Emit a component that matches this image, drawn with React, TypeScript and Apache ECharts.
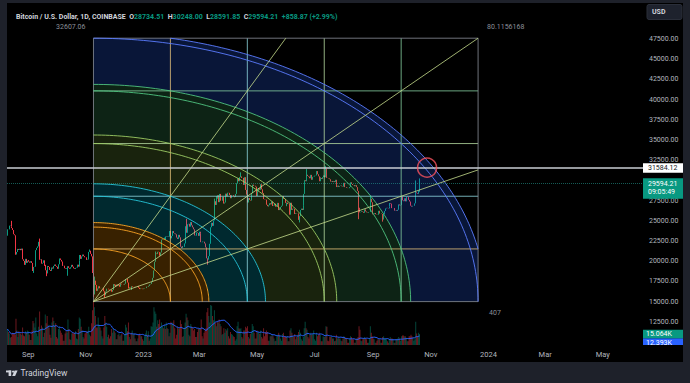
import React, { useEffect, useRef } from "react";
import * as echarts from "echarts";

const FONT = "Roboto, 'Noto Sans', sans-serif";

// ---------------- data ----------------
const startDate = "2022-08-10"; // first daily bar on the time axis
const dayCount = 673; // Aug 10 2022 .. Jun 12 2024
const prevOpen = 23160; // open of the first visible bar

// daily closes, thousands of USD
const closesAug22 = [23.95, 23.94, 24.40, 24.44, 24.31, 24.10, 23.86, 23.34, 23.21, 20.83, 21.14, 21.52, 21.40, 21.53, 21.37, 21.56, 20.24, 20.04, 19.55, 20.29, 19.80, 20.05];
const closesSep22 = [20.13, 19.95, 19.83, 20.00, 19.79, 18.79, 19.29, 19.32, 21.37, 21.65, 21.83, 22.40, 20.18, 20.24, 19.70, 19.80, 20.11, 19.42, 19.54, 18.88, 18.49, 19.41, 19.29, 18.92, 18.80, 19.22, 19.08, 19.41, 19.59, 19.42];
const closesOct22 = [19.31, 19.06, 19.62, 20.34, 20.16, 19.96, 19.53, 19.42, 19.44, 19.13, 19.06, 19.16, 19.38, 19.18, 19.07, 19.26, 19.55, 19.33, 19.12, 19.04, 19.17, 19.21, 19.57, 19.33, 20.09, 20.77, 20.29, 20.60, 20.82, 20.63, 20.49];
const closesNov22 = [20.48, 20.16, 20.21, 21.15, 21.30, 20.91, 20.60, 18.54, 15.88, 17.59, 17.07, 16.81, 16.33, 16.62, 16.90, 16.66, 16.69, 16.70, 16.70, 16.28, 15.78, 16.24, 16.60, 16.60, 16.52, 16.46, 16.44, 16.22, 16.44, 17.16];
const closesDec22 = [16.98, 17.09, 16.89, 17.11, 16.97, 17.09, 16.84, 17.22, 17.13, 17.13, 17.09, 17.21, 17.78, 17.81, 17.36, 16.63, 16.78, 16.74, 16.44, 16.90, 16.82, 16.83, 16.78, 16.84, 16.83, 16.92, 16.71, 16.55, 16.63, 16.60, 16.54];
const closesJan23 = [16.62, 16.67, 16.67, 16.85, 16.83, 16.95, 16.94, 17.13, 17.18, 17.44, 17.94, 18.85, 19.93, 20.95, 20.88, 21.17, 21.13, 20.68, 21.08, 22.67, 22.78, 22.71, 22.92, 22.63, 23.06, 23.01, 23.08, 23.03, 23.74, 22.83, 23.13];
const closesFeb23 = [23.73, 23.49, 23.43, 23.33, 22.93, 22.76, 23.26, 22.96, 21.80, 21.63, 21.86, 21.78, 21.78, 22.20, 24.33, 23.52, 24.57, 24.63, 24.28, 24.84, 24.44, 24.19, 23.95, 23.19, 23.16, 23.55, 23.49, 23.14];
const closesMar23 = [23.65, 23.47, 22.36, 22.35, 22.43, 22.41, 22.20, 21.71, 20.36, 20.19, 20.63, 22.16, 24.20, 24.75, 24.38, 25.05, 27.42, 26.97, 28.04, 27.77, 28.17, 27.31, 28.33, 27.49, 27.49, 27.99, 27.14, 27.27, 28.36, 28.03, 28.48];
const closesApr23 = [28.46, 28.20, 27.80, 28.17, 28.17, 28.04, 27.93, 27.96, 28.33, 29.65, 30.24, 29.90, 30.40, 30.49, 30.31, 30.32, 29.45, 30.40, 28.82, 28.25, 27.27, 27.82, 27.59, 27.51, 28.31, 28.42, 29.47, 29.32, 29.34, 29.23];
const closesMay23 = [28.07, 28.67, 29.03, 28.84, 29.53, 28.90, 28.43, 27.69, 27.65, 27.62, 26.99, 26.81, 26.78, 26.93, 27.17, 27.03, 27.40, 26.83, 26.89, 27.12, 26.75, 26.85, 27.22, 26.33, 26.48, 26.72, 26.87, 28.08, 27.74, 27.70, 27.22];
const closesJun23 = [26.82, 27.25, 27.07, 27.12, 25.76, 27.24, 26.35, 26.51, 26.48, 25.85, 25.94, 25.90, 25.92, 25.12, 25.58, 26.34, 26.51, 26.34, 26.85, 28.33, 30.03, 29.90, 30.70, 30.55, 30.47, 30.27, 30.69, 30.08, 30.45, 30.48];
const closesJul23 = [30.59, 30.62, 31.16, 30.77, 30.51, 29.90, 30.35, 30.29, 30.17, 30.41, 30.62, 30.39, 31.47, 30.32, 30.30, 30.25, 30.15, 29.86, 29.92, 29.80, 29.91, 29.79, 30.08, 29.18, 29.23, 29.35, 29.21, 29.31, 29.36, 29.28, 29.23];
const closesAug23 = [29.70, 29.17, 29.18, 29.09, 29.05, 29.04, 29.18, 29.77, 29.56, 29.43, 29.40, 29.42, 29.28, 29.41, 29.17, 28.70, 26.62, 26.05, 26.10, 26.19, 26.12, 25.99, 26.43, 26.16, 26.05, 26.00, 26.09, 26.10, 27.73, 27.30, 25.94];
const closesSep23 = [25.80, 25.87, 25.97, 25.81, 25.78, 25.75, 26.24, 25.90, 25.90, 25.84, 25.16, 25.84, 26.22, 26.53, 26.61, 26.57, 26.53, 26.76, 27.21, 27.13, 26.57, 26.58, 26.58, 26.26, 26.30, 26.22, 26.37, 27.03, 26.91, 26.97];
const closesOct23 = [27.99, 27.53, 27.43, 27.79, 27.41, 27.95, 27.97, 27.94, 27.59, 27.39, 26.87, 26.76, 26.86, 26.86, 27.16, 28.52, 28.42, 28.33, 28.73534, 29.59421];
const closeMonths = [closesAug22, closesSep22, closesOct22, closesNov22, closesDec22, closesJan23, closesFeb23, closesMar23, closesApr23, closesMay23, closesJun23, closesJul23, closesAug23, closesSep23, closesOct23];

// daily volume, thousands of BTC
const volAug22 = [22, 18, 16, 10, 11, 17, 16, 15, 14, 36, 20, 11, 19, 17, 16, 14, 24, 13, 12, 19, 17, 20];
const volSep22 = [19, 14, 7, 7, 20, 33, 30, 24, 38, 16, 12, 25, 46, 22, 27, 24, 11, 17, 42, 30, 40, 28, 24, 14, 10, 31, 38, 33, 27, 30];
const volOct22 = [11, 9, 22, 25, 20, 17, 14, 6, 6, 16, 19, 17, 35, 22, 8, 7, 16, 17, 16, 17, 19, 9, 8, 22, 38, 36, 25, 20, 11, 9, 16];
const volNov22 = [17, 19, 19, 25, 14, 12, 30, 48, 66, 52, 40, 24, 24, 38, 28, 24, 20, 12, 9, 24, 40, 31, 25, 11, 14, 9, 12, 22, 17, 23];
const volDec22 = [19, 17, 8, 8, 14, 16, 12, 14, 16, 6, 6, 14, 28, 24, 19, 31, 11, 8, 17, 20, 14, 16, 9, 5, 5, 9, 14, 16, 12, 12, 8];
const volJan23 = [6, 12, 16, 20, 14, 19, 6, 9, 26, 25, 31, 52, 46, 43, 25, 34, 29, 35, 26, 31, 26, 23, 28, 22, 31, 23, 22, 12, 17, 32, 29];
const volFeb23 = [31, 34, 23, 9, 14, 25, 23, 23, 34, 29, 11, 12, 23, 31, 43, 38, 34, 14, 12, 29, 25, 23, 20, 22, 11, 11, 18, 22];
const volMar23 = [23, 22, 35, 12, 9, 17, 20, 23, 45, 51, 40, 31, 55, 54, 40, 34, 48, 31, 26, 32, 31, 35, 29, 26, 14, 15, 23, 17, 22, 20, 23];
const volApr23 = [12, 9, 18, 15, 14, 12, 11, 6, 8, 26, 32, 23, 22, 23, 11, 9, 20, 20, 25, 23, 26, 11, 9, 15, 18, 29, 26, 17, 9, 9];
const volMay23 = [20, 17, 18, 15, 20, 11, 9, 23, 12, 18, 20, 18, 6, 6, 12, 12, 14, 12, 9, 5, 6, 12, 14, 17, 14, 9, 6, 15, 17, 11, 12];
const volJun23 = [11, 12, 5, 5, 20, 23, 17, 12, 11, 15, 8, 11, 14, 18, 21, 17, 8, 6, 11, 23, 32, 23, 21, 11, 9, 14, 17, 14, 15, 20];
const volJul23 = [8, 6, 17, 12, 14, 17, 14, 5, 5, 12, 11, 11, 26, 25, 6, 5, 11, 11, 12, 9, 9, 5, 6, 14, 9, 11, 9, 9, 6, 5, 9];
const volAug23 = [12, 11, 9, 9, 3, 3, 9, 12, 11, 8, 8, 3, 3, 8, 9, 11, 26, 21, 6, 5, 8, 9, 11, 9, 8, 3, 3, 9, 26, 17, 12];
const volSep23 = [9, 8, 3, 3, 6, 8, 8, 8, 3, 3, 11, 12, 9, 9, 8, 5, 3, 8, 11, 9, 9, 8, 3, 3, 8, 8, 9, 11, 9, 6];
const volOct23 = [12, 13, 13, 12, 12, 10, 5, 5, 12, 12, 14, 12, 9.796, 6, 8, 32, 16, 12, 17, 15.064];
const volumeMonths = [volAug22, volSep22, volOct22, volNov22, volDec22, volJan23, volFeb23, volMar23, volApr23, volMay23, volJun23, volJul23, volAug23, volSep23, volOct23];
const volMaLength = 20;

// last bar (header) and notable wicks
const lastOHLC = [28734.51, 30248.0, 28591.85, 29594.21];
const prevClose = 28735.34;
const countdown = "09:05:49";
const wickHighs: [string, number][] = [
  ["2022-08-14", 25000], ["2022-09-13", 22800], ["2022-11-05", 21450], ["2022-11-10", 18100],
  ["2023-01-14", 21200], ["2023-02-16", 25250], ["2023-03-17", 27750], ["2023-04-14", 31000],
  ["2023-06-23", 31400], ["2023-07-13", 31800], ["2023-08-29", 28150], ["2023-10-16", 30000],
];
const wickLows: [string, number][] = [
  ["2022-08-19", 20800], ["2022-09-07", 18550], ["2022-09-21", 18150], ["2022-10-13", 18200],
  ["2022-11-09", 15590], ["2022-11-21", 15480], ["2023-03-10", 19570], ["2023-06-15", 24800],
  ["2023-08-17", 25200], ["2023-09-11", 24900],
];

// axes
const priceMin = 10000;
const priceMax = 48250;
const priceStep = 2500;
const priceLabelMin = 12500;
const priceLabelMax = 47500;
const priceLabelHidden = [30000];
const volumeMax = 62;
const timeLabelMonths = [1, 3, 5, 7, 9, 11];
const monthNames = ["Jan", "Feb", "Mar", "Apr", "May", "Jun", "Jul", "Aug", "Sep", "Oct", "Nov", "Dec"];

// Gann box
const gannStart = "2022-11-09";
const gannBars = 407;
const gannLow = 15000;
const gannHigh = 47607.05604;
const gannUnits = 5;
const gannLevels = [0, 0.2, 0.4, 0.6, 0.8, 1];
const gannArcs = [[0, 1], [1, 1], [1.5, 0], [2, 0], [2, 1], [3, 0], [3, 1], [4, 0], [4, 1], [5, 0], [5, 1]];
const gannArcBand = [0, 0, 0, 1, 1, 2, 2, 3, 3, 4, 4];
const gannBandEnds = [2, 4, 6, 8, 10];
const gannFans = [[1, 1], [0.5, 1], [1, 0.5]];

// drawings
const hLinePrice = 31584.12;
const markerDate = "2023-10-28";

// ---------------- styles ----------------
const UP = "#089981";
const DOWN = "#f23645";
const AXIS_TEXT = "#b2b5be";
const FRAME = "#1e212a";
const bandFill = ["rgba(255,152,0,0.22)", "rgba(0,188,212,0.22)", "rgba(139,195,74,0.18)", "rgba(58,158,95,0.22)", "rgba(41,98,255,0.22)"];
const bandLine = ["#ffa726", "#26c6da", "#9ccc65", "#4fc37f", "#5b7cff"];
const levelColors = ["#8a8e99", "#e6c27a", "#8fd8e0", "#b5dca0", "#86cfa0", "#8a8e99"];
const fanColor = "#c6dc8c";

// ---------------- derived ----------------
const categories: string[] = [];
{
  const [y, m, d] = startDate.split("-").map(Number);
  const t0 = Date.UTC(y, m - 1, d);
  for (let i = 0; i < dayCount; i++) categories.push(new Date(t0 + i * 86400000).toISOString().slice(0, 10));
}
const closes = closeMonths.flat().map((v) => Math.round(v * 100000) / 100);
const volumes = volumeMonths.flat();
const candles = closes.map((c, i) => {
  const o = i === 0 ? prevOpen : closes[i - 1];
  return [o, c, Math.min(o, c), Math.max(o, c)];
});
wickHighs.forEach(([d, v]) => { const i = categories.indexOf(d); if (i >= 0 && i < candles.length) candles[i][3] = Math.max(candles[i][3], v); });
wickLows.forEach(([d, v]) => { const i = categories.indexOf(d); if (i >= 0 && i < candles.length) candles[i][2] = Math.min(candles[i][2], v); });
candles[candles.length - 1] = [lastOHLC[0], lastOHLC[3], lastOHLC[2], lastOHLC[1]];

const volumeBars = volumes.map((v, i) => ({
  value: v,
  itemStyle: { color: candles[i][1] >= candles[i][0] ? "rgba(8,153,129,0.45)" : "rgba(242,54,69,0.45)" },
}));
const volumeMA = volumes.map((_, i) => {
  const w = volumes.slice(Math.max(0, i - volMaLength + 1), i + 1);
  return w.reduce((a, b) => a + b, 0) / w.length;
});
const lastVolume = volumes[volumes.length - 1];
const lastVolumeMA = volumeMA[volumeMA.length - 1];
const lastClose = lastOHLC[3];
const change = lastClose - prevClose;
const changePct = (change / prevClose) * 100;
const gStart = categories.indexOf(gannStart);
const markerIndex = categories.indexOf(markerDate);

const fmt2 = (v: number) => v.toFixed(2);
const header =
  `{n|Bitcoin / U.S. Dollar, 1D, COINBASE}  {l|O}{v|${fmt2(lastOHLC[0])}}  {l|H}{v|${fmt2(lastOHLC[1])}}  {l|L}{v|${fmt2(lastOHLC[2])}}  {l|C}{v|${fmt2(lastOHLC[3])}}  {v|${change >= 0 ? "+" : ""}${fmt2(change)} (${change >= 0 ? "+" : ""}${fmt2(changePct)}%)}`;

function renderGann(_params: any, api: any) {
  const bl = api.coord([api.value(0), api.value(1)]);
  const tr = api.coord([api.value(2), api.value(3)]);
  const x0 = bl[0], y0 = bl[1], x1 = tr[0], y1 = tr[1];
  const W = x1 - x0, H = y0 - y1;
  const S = 96;
  const radius = (a: number[]) => Math.hypot(a[0], a[1]);
  const arc = (r: number, clampToBox: boolean) => {
    let t0 = 0, t1 = Math.PI / 2;
    if (!clampToBox && r > gannUnits) { t0 = Math.acos(gannUnits / r); t1 = Math.asin(gannUnits / r); }
    const pts: number[][] = [];
    for (let i = 0; i <= S; i++) {
      const t = t0 + ((t1 - t0) * i) / S;
      let x = x0 + (r / gannUnits) * W * Math.cos(t);
      let y = y0 - (r / gannUnits) * H * Math.sin(t);
      if (clampToBox) { x = Math.min(x, x1); y = Math.max(y, y1); }
      pts.push([x, y]);
    }
    return pts;
  };
  const children: any[] = [];
  let rIn = 0;
  gannBandEnds.forEach((end, k) => {
    const rOut = radius(gannArcs[end]);
    const outer = arc(rOut, true);
    const inner = rIn > 0 ? arc(rIn, true).reverse() : [[x0, y0]];
    children.push({ type: "polygon", silent: true, shape: { points: outer.concat(inner) }, style: { fill: bandFill[k] } });
    rIn = rOut;
  });
  gannLevels.forEach((f, k) => {
    const x = x0 + f * W;
    const y = y0 - f * H;
    children.push({ type: "line", silent: true, shape: { x1: x, y1: y0, x2: x, y2: y1 }, style: { stroke: levelColors[k], lineWidth: 1, opacity: 0.8 } });
    children.push({ type: "line", silent: true, shape: { x1: x0, y1: y, x2: x1, y2: y }, style: { stroke: levelColors[k], lineWidth: 1, opacity: 0.8 } });
  });
  gannArcs.forEach((a, k) => {
    children.push({ type: "polyline", silent: true, shape: { points: arc(radius(a), false) }, style: { stroke: bandLine[gannArcBand[k]], lineWidth: 1, fill: "none", opacity: 0.9 } });
  });
  gannFans.forEach(([fx, fy]) => {
    children.push({ type: "line", silent: true, shape: { x1: x0, y1: y0, x2: x0 + fx * W, y2: y0 - fy * H }, style: { stroke: fanColor, lineWidth: 1, opacity: 0.8 } });
  });
  const range = api.value(3) - api.value(1);
  const bars = api.value(2) - api.value(0);
  const txt = (text: string, x: number, y: number, align: string) => ({
    type: "text", silent: true, x, y,
    style: { text, fill: "#8b8f99", fontSize: 7, fontFamily: FONT, align, textAlign: align, verticalAlign: "middle", textVerticalAlign: "middle" },
  });
  children.push(txt(range.toFixed(2), x0 - 8, y1 - 11, "right"));
  children.push(txt((range / bars).toFixed(7), x1 + 9, y1 - 11, "left"));
  children.push(txt(String(bars), x1 + 11, y0 + 11, "left"));
  return { type: "group", children };
}

export default function App() {
  const ref = useRef<HTMLDivElement>(null);
  useEffect(() => {
    if (!ref.current) return;
    const chart = echarts.init(ref.current, undefined, { renderer: "svg" });
    const gridRight = 47;
    const option: any = {
      animation: false,
      backgroundColor: "#000000",
      title: {
        left: 11, top: 8, text: header,
        textStyle: {
          fontSize: 7, fontFamily: FONT,
          rich: {
            n: { color: "#d1d4dc", fontSize: 7, fontFamily: FONT },
            l: { color: "#d1d4dc", fontSize: 7, fontFamily: FONT },
            v: { color: UP, fontSize: 7, fontFamily: FONT },
          },
        },
      },
      grid: [
        { left: 7, right: gridRight, top: 33, height: 309, outerBoundsMode: "none" },
        { left: 7, right: gridRight, top: 300, height: 45, outerBoundsMode: "none" },
      ],
      xAxis: [
        { type: "category", gridIndex: 0, data: categories, axisLine: { show: false }, axisTick: { show: false }, axisLabel: { show: false }, splitLine: { show: false } },
        {
          type: "category", gridIndex: 1, data: categories,
          axisLine: { show: false }, axisTick: { show: false }, splitLine: { show: false },
          axisLabel: {
            color: AXIS_TEXT, fontSize: 7.5, fontFamily: FONT, margin: 5, hideOverlap: false,
            interval: (_i: number, v: string) => v.endsWith("-01") && timeLabelMonths.includes(Number(v.slice(5, 7))),
            formatter: (v: string) => (v.slice(5, 7) === "01" ? v.slice(0, 4) : monthNames[Number(v.slice(5, 7)) - 1]),
          },
        },
      ],
      yAxis: [
        {
          type: "value", gridIndex: 0, position: "right", min: priceMin, max: priceMax, interval: priceStep,
          axisLine: { show: false }, axisTick: { show: false }, splitLine: { show: false },
          axisLabel: {
            color: AXIS_TEXT, fontSize: 7, fontFamily: FONT, margin: 6,
            formatter: (v: number) => (v % priceStep === 0 && v >= priceLabelMin && v <= priceLabelMax && !priceLabelHidden.includes(v) ? v.toFixed(2) : ""),
          },
        },
        { type: "value", gridIndex: 1, min: 0, max: volumeMax, show: false },
      ],
      series: [
        {
          type: "bar", xAxisIndex: 1, yAxisIndex: 1, data: volumeBars, barWidth: 1, z: 1, silent: true,
        },
        {
          type: "line", xAxisIndex: 1, yAxisIndex: 1, data: volumeMA, showSymbol: false, symbol: "none", z: 2, silent: true,
          lineStyle: { color: "#2962ff", width: 1 },
        },
        {
          type: "candlestick", xAxisIndex: 0, yAxisIndex: 0, data: candles, z: 2, silent: true, barWidth: 1,
          itemStyle: { color: UP, color0: DOWN, borderColor: UP, borderColor0: DOWN, borderWidth: 1 },
        },
        {
          type: "custom", xAxisIndex: 0, yAxisIndex: 0, renderItem: renderGann, z: 3, silent: true, clip: false,
          data: [[gStart, gannLow, gStart + gannBars, gannHigh]], encode: { x: [0, 2], y: [1, 3] },
        },
        {
          type: "scatter", xAxisIndex: 0, yAxisIndex: 0, z: 5, silent: true,
          data: [[markerIndex, hLinePrice]], symbol: "circle", symbolSize: 19,
          itemStyle: { color: "rgba(0,0,0,0)", borderColor: "#f7525f", borderWidth: 1.5 },
          markLine: {
            silent: true, symbol: ["none", "none"], label: { show: false },
            data: [
              { yAxis: lastClose, lineStyle: { color: "#26a69a", width: 1, type: "dotted", opacity: 0.55 } },
              { yAxis: hLinePrice, lineStyle: { color: "#c9ccd3", width: 1.5, type: "solid" } },
            ],
          },
        },
      ],
    };
    chart.setOption(option);

    const axisX = 690 - gridRight;
    const yW = chart.convertToPixel({ yAxisIndex: 0 } as any, hLinePrice) as number;
    const yG = chart.convertToPixel({ yAxisIndex: 0 } as any, lastClose) as number;
    const yV = chart.convertToPixel({ yAxisIndex: 1 } as any, lastVolume) as number;
    const tagText = (text: string, x: number, y: number, fill: string) => ({
      type: "text", x, y, z: 141, silent: true,
      style: { text, fill, fontSize: 7, fontFamily: FONT, align: "left", textAlign: "left", verticalAlign: "middle", textVerticalAlign: "middle" },
    });
    const elements: any[] = [
      // price tags
      { type: "rect", z: 140, silent: true, shape: { x: axisX, y: yW - 4.5, width: 40, height: 9.5 }, style: { fill: "#ffffff" } },
      tagText(fmt2(hLinePrice), axisX + 5, yW + 0.8, "#131722"),
      { type: "rect", z: 140, silent: true, shape: { x: axisX, y: yG - 5.5, width: 40, height: 20.5 }, style: { fill: UP } },
      tagText(fmt2(lastClose), axisX + 5, yG + 0.5, "#ffffff"),
      tagText(countdown, axisX + 5, yG + 8.6, "#ffffff"),
      // volume tags
      { type: "rect", z: 140, silent: true, shape: { x: axisX, y: yV + 4.2, width: 40, height: 9 }, style: { fill: "#2962ff" } },
      tagText(lastVolumeMA.toFixed(3) + "K", axisX + 3, yV + 8.7, "#ffffff"),
      { type: "rect", z: 140, silent: true, shape: { x: axisX, y: yV - 4.3, width: 40, height: 8.5 }, style: { fill: UP } },
      tagText(lastVolume.toFixed(3) + "K", axisX + 3, yV, "#ffffff"),
      { type: "rect", z: 150, silent: true, shape: { x: axisX, y: 345, width: 40, height: 17 }, style: { fill: "#000000" } },
      // frame
      { type: "rect", z: 200, silent: true, shape: { x: 0, y: 0, width: 7, height: 383 }, style: { fill: FRAME } },
      { type: "rect", z: 200, silent: true, shape: { x: 683, y: 0, width: 7, height: 383 }, style: { fill: FRAME } },
      { type: "rect", z: 200, silent: true, shape: { x: 0, y: 0, width: 690, height: 3 }, style: { fill: FRAME } },
      { type: "rect", z: 200, silent: true, shape: { x: 0, y: 362, width: 690, height: 21 }, style: { fill: FRAME } },
      // currency button
      { type: "rect", z: 210, silent: true, shape: { x: 647, y: 4.5, width: 35, height: 15, r: 2 }, style: { fill: "#1e222d", stroke: "#2a2e39", lineWidth: 1 } },
      {
        type: "text", z: 211, silent: true, x: 652, y: 12,
        style: { text: "USD", fill: "#d1d4dc", fontSize: 7, fontWeight: "bold", fontFamily: FONT, verticalAlign: "middle", textVerticalAlign: "middle" },
      },
      // TradingView logo
      { type: "rect", z: 210, silent: true, shape: { x: 6, y: 370.5, width: 5.2, height: 1.9 }, style: { fill: "#d1d4dc" } },
      { type: "rect", z: 210, silent: true, shape: { x: 8.6, y: 370.5, width: 2.6, height: 5.5 }, style: { fill: "#d1d4dc" } },
      { type: "circle", z: 210, silent: true, shape: { cx: 13.1, cy: 371.6, r: 1.1 }, style: { fill: "#d1d4dc" } },
      { type: "polygon", z: 210, silent: true, shape: { points: [[14.6, 370.5], [17.6, 370.5], [15.1, 376], [12.2, 376]] }, style: { fill: "#d1d4dc" } },
      {
        type: "text", z: 210, silent: true, x: 20.5, y: 373.4,
        style: { text: "TradingView", fill: "#d1d4dc", fontSize: 8.5, fontFamily: FONT, verticalAlign: "middle", textVerticalAlign: "middle" },
      },
    ];
    chart.setOption({ graphic: { elements } });
    return () => chart.dispose();
  }, []);
  return (
    <div style={{ position: "fixed", left: 0, top: 0, width: 690, height: 383, background: FRAME }}>
      <div ref={ref} style={{ width: 690, height: 383 }} />
    </div>
  );
}
